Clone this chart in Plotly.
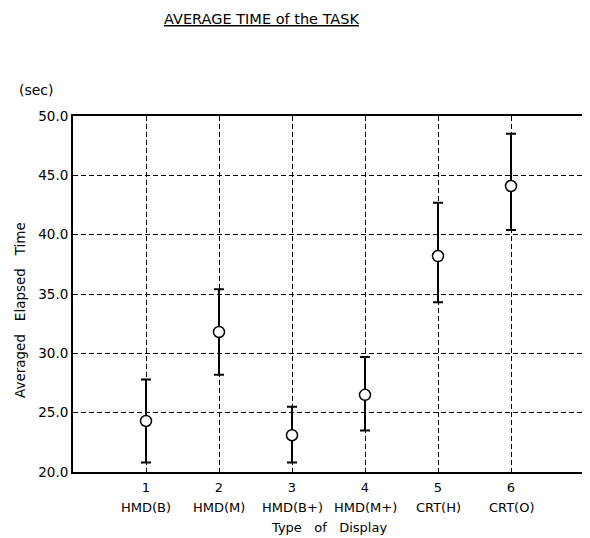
import plotly.graph_objects as go

x_pos = [1, 2, 3, 4, 5, 6]
display_names = ["HMD(B)", "HMD(M)", "HMD(B+)", "HMD(M+)", "CRT(H)", "CRT(O)"]
mean_time = [24.3, 31.8, 23.1, 26.5, 38.2, 44.1]
upper_val = [27.8, 35.4, 25.5, 29.7, 42.7, 48.5]
lower_val = [20.8, 28.2, 20.8, 23.5, 34.3, 40.4]
y_ticks = [20, 25, 30, 35, 40, 45, 50]
y_tick_labels = ["20.0", "25.0", "30.0", "35.0", "40.0", "45.0", "50.0"]

err_plus = [u - m for u, m in zip(upper_val, mean_time)]
err_minus = [m - l for m, l in zip(mean_time, lower_val)]

FONT = "DejaVu Sans"

fig = go.Figure()
fig.add_trace(go.Scatter(
    x=x_pos, y=mean_time, mode="markers",
    marker=dict(symbol="circle", size=11, color="white",
                line=dict(color="black", width=1.5)),
    error_y=dict(type="data", symmetric=False, array=err_plus,
                 arrayminus=err_minus, color="black", thickness=2, width=5),
    showlegend=False,
))

for xv, name in zip(x_pos, display_names):
    fig.add_annotation(x=xv, y=0, xref="x", yref="paper", yshift=-45,
                       text=name, showarrow=False,
                       font=dict(family=FONT, size=13, color="black"))

fig.add_annotation(x=3.5, y=0, xref="x", yref="paper", yshift=-65,
                   text="Type   of   Display", showarrow=False,
                   font=dict(family=FONT, size=13, color="black"))
fig.add_annotation(x=0, y=1, xref="paper", yref="paper", xshift=-37, yshift=36,
                   xanchor="center", text="(sec)", showarrow=False,
                   font=dict(family=FONT, size=14, color="black"))
fig.add_annotation(x=0.368, y=1, xref="paper", yref="paper", yshift=107,
                   text="<u>AVERAGE TIME of the TASK</u>", showarrow=False,
                   font=dict(family=FONT, size=14.5, color="black"))
fig.add_annotation(x=0, y=0.455, xref="paper", yref="paper", xshift=-63,
                   textangle=-90, text="Averaged   Elapsed   Time", showarrow=False,
                   font=dict(family=FONT, size=13.5, color="black"))

fig.update_layout(
    width=582, height=530,
    margin=dict(l=65, r=4, t=108, b=66),
    paper_bgcolor="white", plot_bgcolor="white",
    font=dict(family=FONT, size=13, color="black"),
    xaxis=dict(range=[0, 7], tickvals=x_pos, ticktext=[str(v) for v in x_pos],
               showgrid=True, gridcolor="black", griddash="5px,3px", gridwidth=1,
               showline=True, linecolor="black", linewidth=2, mirror=True,
               ticks="", zeroline=False, tickfont=dict(size=13),
               ticklabelstandoff=2),
    yaxis=dict(range=[20, 50], tickvals=y_ticks, ticktext=y_tick_labels,
               showgrid=True, gridcolor="black", griddash="5px,3px", gridwidth=1,
               showline=True, linecolor="black", linewidth=2, mirror=True,
               ticks="", zeroline=False, tickfont=dict(size=13.5)),
)

fig.write_html("out.html")
